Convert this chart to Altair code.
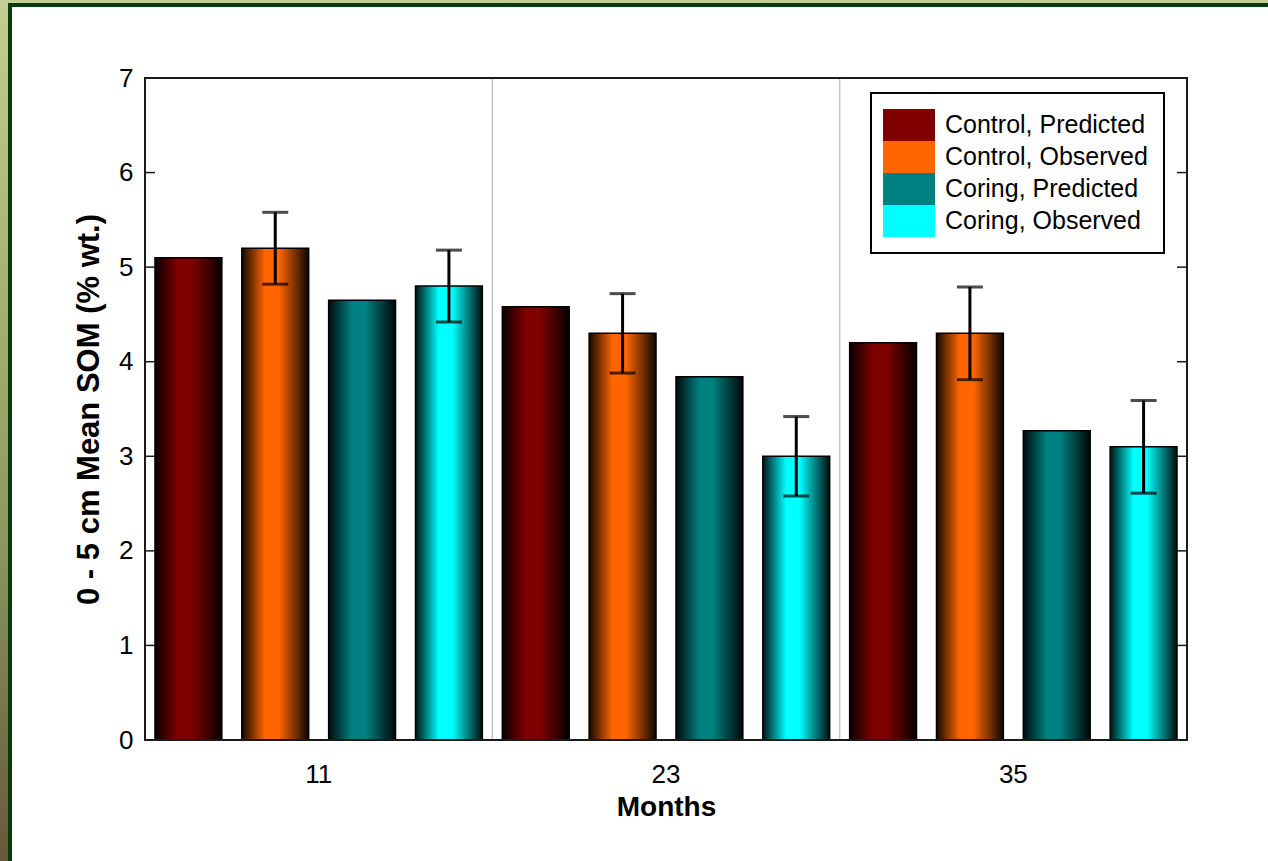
import altair as alt
import pandas as pd

# ---- data -------------------------------------------------------------
months = ["11", "23", "35"]
series = ["Control, Predicted", "Control, Observed", "Coring, Predicted", "Coring, Observed"]
colors = ["#800000", "#ff6600", "#008080", "#00ffff"]

control_predicted = [5.1, 4.58, 4.2]
control_observed = [5.2, 4.3, 4.3]
coring_predicted = [4.65, 3.84, 3.27]
coring_observed = [4.8, 3.0, 3.1]

control_observed_err = [0.38, 0.42, 0.49]
coring_observed_err = [0.38, 0.42, 0.49]

y_tick_values = [0, 1, 2, 3, 4, 5, 6, 7]

# ---- tables -------------------------------------------------------------
values_by_series = {
    series[0]: (control_predicted, None),
    series[1]: (control_observed, control_observed_err),
    series[2]: (coring_predicted, None),
    series[3]: (coring_observed, coring_observed_err),
}
rows = []
for s, (vals, errs) in values_by_series.items():
    for i, m in enumerate(months):
        row = {"month": m, "series": s, "value": vals[i]}
        if errs is not None:
            row["lo"] = vals[i] - errs[i]
            row["hi"] = vals[i] + errs[i]
        rows.append(row)
df = pd.DataFrame(rows)
obs = df.dropna(subset=["lo"])
inner_ticks = pd.DataFrame({"t": y_tick_values[1:-1]})
one = pd.DataFrame({"k": [0]})

W, H = 1042, 662
PAD = {"left": 145, "top": 78, "right": 81, "bottom": 121}
FONT = "Liberation Sans"


def shade(hex_color, f):
    h = hex_color.lstrip("#")
    r, g, b = (int(h[i:i + 2], 16) for i in (0, 2, 4))
    return "#%02x%02x%02x" % (int(r * f), int(g * f), int(b * f))


def bar_gradient(c):
    return alt.LinearGradient(
        gradient="linear", x1=0, y1=0, x2=1, y2=0,
        stops=[
            alt.GradientStop(color=shade(c, 0.08), offset=0),
            alt.GradientStop(color=c, offset=0.35),
            alt.GradientStop(color=c, offset=0.55),
            alt.GradientStop(color=shade(c, 0.05), offset=1),
        ],
    )


# ---- shared encodings ----------------------------------------------------
x_axis = alt.Axis(
    title="Months", labelAngle=0, ticks=False, domain=False, grid=False,
    labelFontSize=26, labelPadding=21, labelColor="black",
    titleFontSize=28, titleFontWeight="bold", titlePadding=6, titleColor="black",
    zindex=2,
)
y_axis = alt.Axis(
    title="0 - 5 cm Mean SOM (% wt.)", values=y_tick_values, ticks=False,
    domain=False, grid=False, labelFontSize=26, labelPadding=12, labelColor="black",
    titleFontSize=31, titleFontWeight="bold", titlePadding=13, titleColor="black",
    zindex=2,
)
x_scale = alt.Scale(domain=months, paddingInner=0, paddingOuter=0)
y_scale = alt.Scale(domain=[0, 7], nice=False, zero=True)
off_scale = alt.Scale(domain=series, paddingInner=0.23, paddingOuter=0.115)

X = alt.X("month:N", sort=months, scale=x_scale, axis=x_axis)
XO = alt.XOffset("series:N", sort=series, scale=off_scale)


def Y(field):
    return alt.Y(field, type="quantitative", scale=y_scale, axis=y_axis)


# ---- slide frame (light green edge, dark green rule, white card) -----------
frame_bg = alt.Chart(one).mark_rect(
    fill=alt.LinearGradient(
        gradient="linear", x1=0, y1=0, x2=0, y2=1,
        stops=[alt.GradientStop(color="#c2ce92", offset=0),
               alt.GradientStop(color="#8f9a62", offset=0.6),
               alt.GradientStop(color="#66593a", offset=1)],
    )
).encode(x=alt.value(-PAD["left"]), x2=alt.value(W + PAD["right"]),
         y=alt.value(-PAD["top"]), y2=alt.value(H + PAD["bottom"]))
frame_dark = alt.Chart(one).mark_rect(fill="#0c3a0c").encode(
    x=alt.value(8 - PAD["left"]), x2=alt.value(W + PAD["right"]),
    y=alt.value(3 - PAD["top"]), y2=alt.value(H + PAD["bottom"]))
frame_card = alt.Chart(one).mark_rect(fill="white").encode(
    x=alt.value(12 - PAD["left"]), x2=alt.value(W + PAD["right"]),
    y=alt.value(7 - PAD["top"]), y2=alt.value(H + PAD["bottom"]))

# ---- group separators ------------------------------------------------------
separators = alt.Chart(pd.DataFrame({"month": months})).mark_rule(
    color="#c4c4c4", strokeWidth=1.5
).encode(x=alt.X("month:N", sort=months, scale=x_scale, axis=x_axis, bandPosition=0))

# ---- flat bars (carry the legend) -------------------------------------------
flat = alt.Chart(df).mark_bar().encode(
    x=X, xOffset=XO, y=Y("value"),
    color=alt.Color(
        "series:N", sort=series, scale=alt.Scale(domain=series, range=colors),
        legend=alt.Legend(
            title=None, orient="none", legendX=726, legendY=15, direction="vertical",
            symbolType="M-1.625,-1L1.625,-1L1.625,1L-1.625,1Z", symbolSize=1024,
            symbolOffset=6, symbolStrokeWidth=0, symbolOpacity=1,
            labelOffset=20, labelFontSize=25, labelLimit=400, labelColor="black",
            labelFont=FONT, rowPadding=0, padding=16,
            strokeColor="black", fillColor="white",
        ),
    ),
)

# ---- shaded bars ---------------------------------------------------------------
shaded = [
    alt.Chart(df[df["series"] == s]).mark_bar(
        fill=bar_gradient(c), stroke="black", strokeWidth=1.5
    ).encode(x=X, xOffset=XO, y=Y("value"))
    for s, c in zip(series, colors)
]

# ---- error bars on the observed means ----------------------------------------------
err_line = alt.Chart(obs).mark_rule(color="black", strokeWidth=3).encode(
    x=X, xOffset=XO, y=Y("lo"), y2="hi:Q")
cap_hi = alt.Chart(obs).mark_tick(color="black", thickness=3, size=26).encode(
    x=X, xOffset=XO, y=Y("hi"))
cap_lo = alt.Chart(obs).mark_tick(color="black", thickness=3, size=26).encode(
    x=X, xOffset=XO, y=Y("lo"))

# ---- plot frame and inward ticks -------------------------------------------------------
plot_frame = alt.Chart(one).mark_rect(
    fill="transparent", stroke="#1a1a1a", strokeWidth=2
).encode(x=alt.value(0), x2=alt.value("width"), y=alt.value(0), y2=alt.value("height"))
ticks_left = alt.Chart(inner_ticks).mark_rule(color="#1a1a1a", strokeWidth=1.5).encode(
    y=Y("t"), x=alt.value(0), x2=alt.value(10))
ticks_right = alt.Chart(inner_ticks).mark_rule(color="#1a1a1a", strokeWidth=1.5).encode(
    y=Y("t"), x=alt.value(W - 10), x2=alt.value("width"))

chart = alt.layer(
    frame_bg, frame_dark, frame_card, separators, flat, *shaded,
    err_line, cap_hi, cap_lo, plot_frame, ticks_left, ticks_right,
).properties(
    width=W, height=H, padding=PAD, autosize=alt.AutoSizeParams(type="none"),
    background="white",
).configure(font=FONT).configure_view(stroke=None).configure_legend(strokeWidth=2)

chart.save("out.html", embed_options={"renderer": "svg", "actions": False})
